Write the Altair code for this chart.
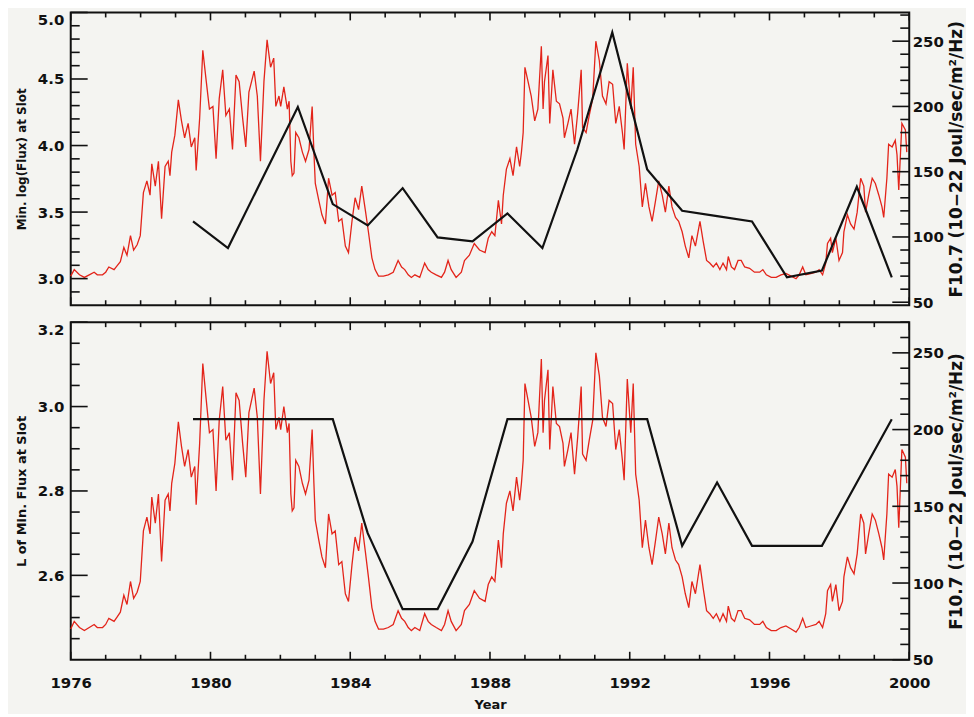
import altair as alt
import pandas as pd

# ---------------- data ----------------
f107_year = [
    1976.00, 1976.10, 1976.25, 1976.39, 1976.53, 1976.67, 1976.76, 1976.91, 1977.00, 1977.09,
    1977.24, 1977.33, 1977.42, 1977.52, 1977.61, 1977.71, 1977.80, 1977.90, 1977.99, 1978.08,
    1978.18, 1978.27, 1978.32, 1978.42, 1978.51, 1978.60, 1978.65, 1978.70, 1978.79, 1978.84,
    1978.89, 1978.98, 1979.08, 1979.17, 1979.26, 1979.36, 1979.45, 1979.55, 1979.59, 1979.69,
    1979.78, 1979.88, 1979.97, 1980.07, 1980.16, 1980.25, 1980.35, 1980.44, 1980.54, 1980.63,
    1980.73, 1980.82, 1980.92, 1981.01, 1981.10, 1981.25, 1981.34, 1981.43, 1981.53, 1981.62,
    1981.72, 1981.81, 1981.87, 1981.96, 1982.01, 1982.10, 1982.20, 1982.25, 1982.30, 1982.34,
    1982.39, 1982.44, 1982.53, 1982.63, 1982.72, 1982.82, 1982.91, 1982.96, 1983.00, 1983.10,
    1983.19, 1983.29, 1983.38, 1983.48, 1983.57, 1983.67, 1983.76, 1983.86, 1983.95, 1984.05,
    1984.14, 1984.24, 1984.33, 1984.43, 1984.52, 1984.62, 1984.71, 1984.81, 1984.95, 1985.09,
    1985.23, 1985.37, 1985.47, 1985.56, 1985.66, 1985.75, 1985.85, 1985.99, 1986.13, 1986.23,
    1986.32, 1986.46, 1986.61, 1986.70, 1986.80, 1986.89, 1987.03, 1987.18, 1987.27, 1987.41,
    1987.55, 1987.70, 1987.86, 1987.95, 1988.05, 1988.14, 1988.24, 1988.33, 1988.38, 1988.47,
    1988.57, 1988.66, 1988.76, 1988.85, 1988.90, 1988.95, 1989.00, 1989.09, 1989.18, 1989.28,
    1989.37, 1989.47, 1989.52, 1989.56, 1989.66, 1989.71, 1989.80, 1989.90, 1989.99, 1990.09,
    1990.13, 1990.23, 1990.32, 1990.42, 1990.51, 1990.61, 1990.65, 1990.75, 1990.84, 1990.94,
    1991.03, 1991.13, 1991.22, 1991.32, 1991.41, 1991.51, 1991.60, 1991.70, 1991.79, 1991.84,
    1991.93, 1992.03, 1992.10, 1992.17, 1992.27, 1992.36, 1992.45, 1992.55, 1992.64, 1992.74,
    1992.83, 1992.93, 1993.02, 1993.12, 1993.21, 1993.31, 1993.40, 1993.50, 1993.59, 1993.69,
    1993.78, 1993.88, 1994.01, 1994.10, 1994.20, 1994.29, 1994.39, 1994.48, 1994.58, 1994.67,
    1994.77, 1994.82, 1994.91, 1995.00, 1995.10, 1995.19, 1995.29, 1995.43, 1995.57, 1995.72,
    1995.81, 1995.91, 1996.05, 1996.19, 1996.33, 1996.47, 1996.62, 1996.76, 1996.85, 1996.95,
    1997.04, 1997.18, 1997.33, 1997.42, 1997.52, 1997.61, 1997.66, 1997.75, 1997.80, 1997.90,
    1997.99, 1998.09, 1998.13, 1998.23, 1998.32, 1998.42, 1998.51, 1998.61, 1998.70, 1998.75,
    1998.84, 1998.94, 1999.03, 1999.13, 1999.22, 1999.27, 1999.36, 1999.41, 1999.51, 1999.60,
    1999.65, 1999.70, 1999.79, 1999.89, 1999.93,
]
f107_value = [
    70, 75, 71, 69, 71, 73, 71, 71, 73, 77,
    75, 78, 81, 92, 86, 101, 90, 94, 101, 134,
    143, 132, 156, 139, 158, 114, 134, 154, 158, 147,
    165, 178, 205, 189, 176, 187, 169, 176, 151, 191,
    243, 219, 198, 200, 160, 206, 228, 193, 198, 167,
    224, 219, 191, 169, 211, 227, 208, 158, 219, 251,
    230, 237, 200, 208, 200, 215, 198, 204, 158, 147,
    149, 180, 176, 165, 158, 167, 200, 165, 141, 128,
    117, 110, 145, 132, 134, 112, 114, 93, 88, 112,
    130, 121, 139, 121, 104, 84, 75, 70, 70, 71,
    73, 82, 77, 75, 71, 69, 71, 69, 80, 75,
    73, 71, 69, 73, 82, 75, 69, 73, 82, 86,
    95, 90, 88, 99, 104, 101, 128, 110, 132, 152,
    160, 147, 169, 154, 165, 180, 230, 219, 208, 189,
    198, 246, 198, 219, 239, 187, 228, 204, 202, 191,
    176, 187, 198, 171, 195, 228, 184, 180, 193, 206,
    250, 235, 208, 202, 219, 217, 187, 200, 180, 167,
    233, 198, 230, 171, 154, 123, 141, 123, 112, 128,
    143, 132, 119, 139, 123, 115, 112, 104, 93, 84,
    101, 93, 112, 97, 82, 80, 77, 80, 75, 80,
    75, 85, 77, 75, 82, 82, 77, 76, 73, 73,
    75, 71, 69, 69, 71, 72, 70, 68, 71, 77,
    71, 72, 73, 75, 71, 80, 95, 99, 88, 99,
    82, 88, 104, 117, 110, 106, 119, 145, 139, 119,
    132, 145, 141, 132, 123, 115, 145, 171, 169, 174,
    163, 136, 187, 182, 165,
]

annual_year = [
    1979.5, 1980.5, 1981.5, 1982.5, 1983.5, 1984.5, 1985.5, 1986.5, 1987.5, 1988.5, 1989.5,
    1990.5, 1991.5, 1992.5, 1993.5, 1994.5, 1995.5, 1996.5, 1997.5, 1998.5, 1999.5,
]
min_log_flux = [
    3.43, 3.23, 3.76, 4.29, 3.56, 3.40, 3.68, 3.31, 3.28, 3.49, 3.23,
    3.97, 4.85, 3.82, 3.51, 3.47, 3.43, 3.01, 3.06, 3.69, 3.01,
]
l_of_min_flux = [
    2.97, 2.97, 2.97, 2.97, 2.97, 2.70, 2.52, 2.52, 2.68, 2.97, 2.97,
    2.97, 2.97, 2.97, 2.67, 2.82, 2.67, 2.67, 2.67, 2.82, 2.97,
]

# axis tick values
major_years = [1976, 1980, 1984, 1988, 1992, 1996, 2000]
minor_years = [1977, 1978, 1979, 1981, 1982, 1983, 1985, 1986, 1987,
               1989, 1990, 1991, 1993, 1994, 1995, 1997, 1998, 1999]
f107_major = [50, 100, 150, 200, 250]
f107_minor = [60, 70, 80, 90, 110, 120, 130, 140, 160, 170, 180, 190,
              210, 220, 230, 240, 260, 270]
top_major = [3.0, 3.5, 4.0, 4.5, 5.0]
top_minor = [2.9, 3.1, 3.2, 3.3, 3.4, 3.6, 3.7, 3.8, 3.9, 4.1, 4.2, 4.3, 4.4, 4.6, 4.7, 4.8, 4.9]
bot_major = [2.6, 2.8, 3.0, 3.2]
bot_minor = [2.45, 2.5, 2.55, 2.65, 2.7, 2.75, 2.85, 2.9, 2.95, 3.05, 3.1, 3.15]

red_df = pd.DataFrame({"year": f107_year, "f107": f107_value})
top_df = pd.DataFrame({"year": annual_year, "v": min_log_flux})
bot_df = pd.DataFrame({"year": annual_year, "v": l_of_min_flux})

# ---------------- styling ----------------
FONT = "DejaVu Sans"
INK = "#111111"
RED = "#e3241a"
W = 842
XS = alt.Scale(domain=[1976, 2000], nice=False, zero=False)
TICK_W = 1.6


def lab(pad, fmt, **extra):
    kw = dict(ticks=False, domain=False, grid=False, labelPadding=pad, format=fmt,
              labelFont=FONT, labelFontSize=15, labelFontWeight="bold", labelColor=INK,
              titleFont=FONT, titleFontWeight="bold", titleColor=INK)
    kw.update(extra)
    return alt.Axis(**kw)


def xticks(values, length, height):
    df = pd.DataFrame({"year": values})
    bot = alt.Chart(df).mark_rule(color=INK, strokeWidth=TICK_W).encode(
        x=alt.X("year:Q", scale=XS, axis=None),
        y=alt.value(height - length), y2=alt.value(height))
    topt = alt.Chart(df).mark_rule(color=INK, strokeWidth=TICK_W).encode(
        x=alt.X("year:Q", scale=XS, axis=None),
        y=alt.value(0), y2=alt.value(length))
    return [bot, topt]


def yticks(values, scale, length, side):
    df = pd.DataFrame({"val": values})
    x0, x1 = (0, length) if side == "left" else (W - length, W)
    return alt.Chart(df).mark_rule(color=INK, strokeWidth=TICK_W).encode(
        y=alt.Y("val:Q", scale=scale, axis=None),
        x=alt.value(x0), x2=alt.value(x1))


def panel(black_df, ytitle, tsize, ydom, ymajor, yminor, rdom, height, bottom):
    rs = alt.Scale(domain=rdom, nice=False, zero=False)
    ls = alt.Scale(domain=ydom, nice=False, zero=False)

    if bottom:
        xaxis = lab(16, "d", values=major_years, orient="bottom", labelFlush=False,
                    title="Year", titleFontSize=13, titlePadding=8)
    else:
        xaxis = None
    yr = lab(3, "d", values=f107_major, orient="right",
             title="F10.7 (10−22 Joul/sec/m²/Hz)", titleFontSize=17, titlePadding=5,
             titleAngle=270, titleBaseline="top")
    yl = lab(7, ".1f", values=ymajor, orient="left", labelFlush=True,
             title=ytitle, titleFontSize=tsize, titlePadding=9)

    red = alt.Chart(red_df).mark_line(color=RED, strokeWidth=1.3).encode(
        x=alt.X("year:Q", scale=XS, axis=xaxis),
        y=alt.Y("f107:Q", scale=rs, axis=yr),
    )
    black = alt.Chart(black_df).mark_line(color=INK, strokeWidth=2.2).encode(
        x=alt.X("year:Q", scale=XS, axis=None),
        y=alt.Y("v:Q", scale=ls, axis=yl),
    )
    layers = [red]
    layers += xticks(major_years, 8, height)
    layers += xticks(minor_years, 5, height)
    layers += [
        yticks(ymajor, ls, 17, "left"),
        yticks(yminor, ls, 9, "left"),
        yticks(f107_major, rs, 17, "right"),
        yticks(f107_minor, rs, 9, "right"),
    ]
    layers.append(black)
    return (
        alt.layer(*layers)
        .resolve_scale(y="independent")
        .resolve_axis(x="independent", y="independent")
        .properties(width=W, height=height)
    )


top = panel(top_df, "Min. log(Flux) at Slot", 12, [2.8, 5.0], top_major, top_minor,
            [47.7, 272], 294, False)
bottom = panel(bot_df, "L of Min. Flux at Slot", 13, [2.4, 3.2], bot_major, bot_minor,
               [50, 270], 339, True)

chart = (
    alt.vconcat(top, bottom, spacing=9)
    .properties(background="#f4f4f1", padding={"left": 6, "top": 1, "right": 0, "bottom": 0})
    .configure_view(stroke=INK, strokeWidth=2)
)

chart.save("out.html", embed_options={"renderer": "svg", "actions": False})
